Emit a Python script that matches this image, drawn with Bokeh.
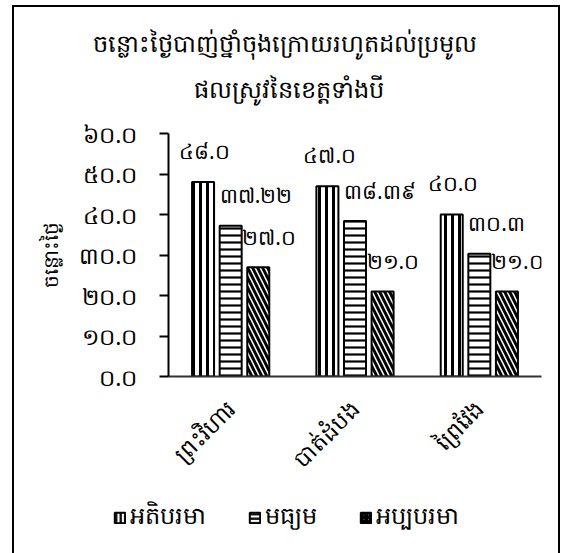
import math
from bokeh.plotting import figure
from bokeh.layouts import column
from bokeh.models import (ColumnDataSource, Legend, LegendItem, FixedTicker, Range1d, Title,
                          FactorRange)
from bokeh.transform import dodge
from bokeh.core.properties import value
from bokeh.embed import file_html
from bokeh.resources import INLINE

# ---- data ----
provinces = ["ព្រះវិហារ", "បាត់ដំបង", "ព្រៃវែង"]
series_names = ["អតិបរមា", "មធ្យម", "អប្បបរមា"]
max_days = [48.0, 47.0, 40.0]
mean_days = [37.22, 38.39, 30.3]
min_days = [27.0, 21.0, 21.0]
y_ticks = [0, 10, 20, 30, 40, 50, 60]
y_tick_labels = ["០.០", "១០.០", "២០.០", "៣០.០", "៤០.០", "៥០.០", "៦០.០"]
title_lines = ["ចន្លោះថ្ងៃបាញ់ថ្នាំចុងក្រោយរហូតដល់ប្រមូល", "ផលស្រូវនៃខេត្តទាំងបី"]
y_title = "ចន្លោះថ្ងៃ"

KH = str.maketrans("0123456789", "០១២៣៤៥៦៧៨៩")


def kh_label(v):
    s = f"{v:.1f}" if abs(v * 10 - round(v * 10)) < 1e-9 else f"{v:.2f}"
    return s.translate(KH)


FONT = "Noto Sans"
BORDER = "2px solid black"

# canvas of main figure starts at (14, 7) inside the 2px border
OX, OY = 14, 7
WB = 548                 # host width incl. borders -> canvas 544 wide
HP = 487                 # main figure host height (top border incl.)
HL = 61                  # legend strip height
FL, FR, FT, FB = 168, 537, 133, 374

p = figure(x_range=provinces, y_range=Range1d(0, 60), width=WB, height=HP,
           output_backend="svg", toolbar_location=None,
           min_border_left=FL - OX, min_border_right=OX + WB - 4 - FR,
           min_border_top=FT - OY, min_border_bottom=OY + HP - 2 - FB)
p.margin = (5, 0, 0, 12)
p.styles = {"border-left": BORDER, "border-top": BORDER, "border-right": BORDER}
p.outline_line_color = None
p.grid.grid_line_color = None

src = ColumnDataSource(dict(prov=provinces, mx=max_days, me=mean_days, mn=min_days,
                            mx_t=[kh_label(v) for v in max_days],
                            me_t=[kh_label(v) for v in mean_days],
                            mn_t=[kh_label(v) for v in min_days],
                            mx_y=[v + 7.7 for v in max_days],
                            me_y=[v + 7.5 for v in mean_days],
                            mn_y=[v + 7.5 for v in min_days]))

BW = 0.177
OFF = 0.222
specs = [("mx", -OFF, "|", 7, 3, -24),
         ("me", 0.0, "-", 7, 2.2, -11),
         ("mn", OFF, "\\", 10, 3, -16)]
bar_style = dict(fill_color="white", line_color="black", line_width=2, hatch_color="black")
for col, off, hp, hs, hw, xo in specs:
    p.vbar(x=dodge("prov", off, range=p.x_range), top=col, width=BW, source=src,
           hatch_pattern=hp, hatch_scale=hs, hatch_weight=hw, **bar_style)
    p.text(x=dodge("prov", off, range=p.x_range), y=col + "_y", text=col + "_t",
           source=src, text_font=value(FONT), text_font_size="21px",
           text_align="left", text_baseline="middle", x_offset=xo, text_color="black")

# axes
p.yaxis.ticker = FixedTicker(ticks=y_ticks)
p.yaxis.major_label_overrides = {t: l for t, l in zip(y_ticks, y_tick_labels)}
p.yaxis.major_label_text_font = FONT
p.yaxis.major_label_text_font_size = "23px"
p.yaxis.major_label_text_color = "black"
p.yaxis.major_tick_out = 9
p.yaxis.major_tick_in = 0
p.yaxis.major_tick_line_width = 2
p.yaxis.minor_tick_line_color = None
p.yaxis.axis_line_width = 2
p.yaxis.axis_line_color = "black"
p.yaxis.major_label_standoff = 22
p.yaxis.axis_label = y_title
p.yaxis.axis_label_text_font = FONT
p.yaxis.axis_label_text_font_size = "20px"
p.yaxis.axis_label_text_font_style = "normal"
p.yaxis.axis_label_text_color = "black"
p.yaxis.axis_label_standoff = 12

p.xaxis.major_tick_line_color = None
p.xaxis.axis_line_width = 2
p.xaxis.axis_line_color = "#333333"
p.xaxis.major_label_orientation = math.pi / 4
p.xaxis.major_label_text_font = FONT
p.xaxis.major_label_text_font_size = "23px"
p.xaxis.major_label_text_color = "black"
p.xaxis.major_label_standoff = 22

# two-line title; titles stack upward from the frame in the order added
p.add_layout(Title(text=" ", text_font_size="1px", standoff=19), "above")   # gap above frame
p.add_layout(Title(text=title_lines[1], align="left", offset=193 - FL, text_font=FONT,
                   text_font_size="24px", text_font_style="normal", text_color="black",
                   standoff=13), "above")
p.add_layout(Title(text=title_lines[0], align="left", offset=92 - FL, text_font=FONT,
                   text_font_size="24px", text_font_style="normal", text_color="black",
                   standoff=10), "above")

# legend in its own strip below the chart
lf = figure(width=WB, height=HL, x_range=FactorRange(factors=provinces),
            y_range=Range1d(0, 60), x_axis_type=None, y_axis_type=None,
            output_backend="svg", toolbar_location=None,
            min_border=0, min_border_left=0, min_border_right=0,
            min_border_top=0, min_border_bottom=0)
lf.margin = (0, 0, 0, 12)
lf.styles = {"border-left": BORDER, "border-right": BORDER}
lf.grid.visible = False
lf.outline_line_color = None
leg_rs = []
for col, off, hp, hs, hw, xo in specs:
    r = lf.vbar(x=dodge("prov", off, range=lf.x_range), top=col, width=BW, source=src,
                hatch_pattern=hp, hatch_scale=4.5, hatch_weight=2.2, **bar_style)
    r.visible = False
    leg_rs.append(r)
legend = Legend(items=[LegendItem(label=n, renderers=[r]) for n, r in zip(series_names, leg_rs)],
                orientation="horizontal", location=(113 - OX, 17),
                label_text_font=FONT, label_text_font_size="24px", label_text_color="black",
                glyph_width=13, glyph_height=13, label_standoff=4, spacing=42,
                padding=0, margin=0, border_line_color=None, background_fill_alpha=0,
                inactive_fill_alpha=0)
lf.add_layout(legend, "center")

layout = column(p, column(lf, spacing=0), spacing=0)
open("out.html", "w").write(file_html(layout, INLINE))
